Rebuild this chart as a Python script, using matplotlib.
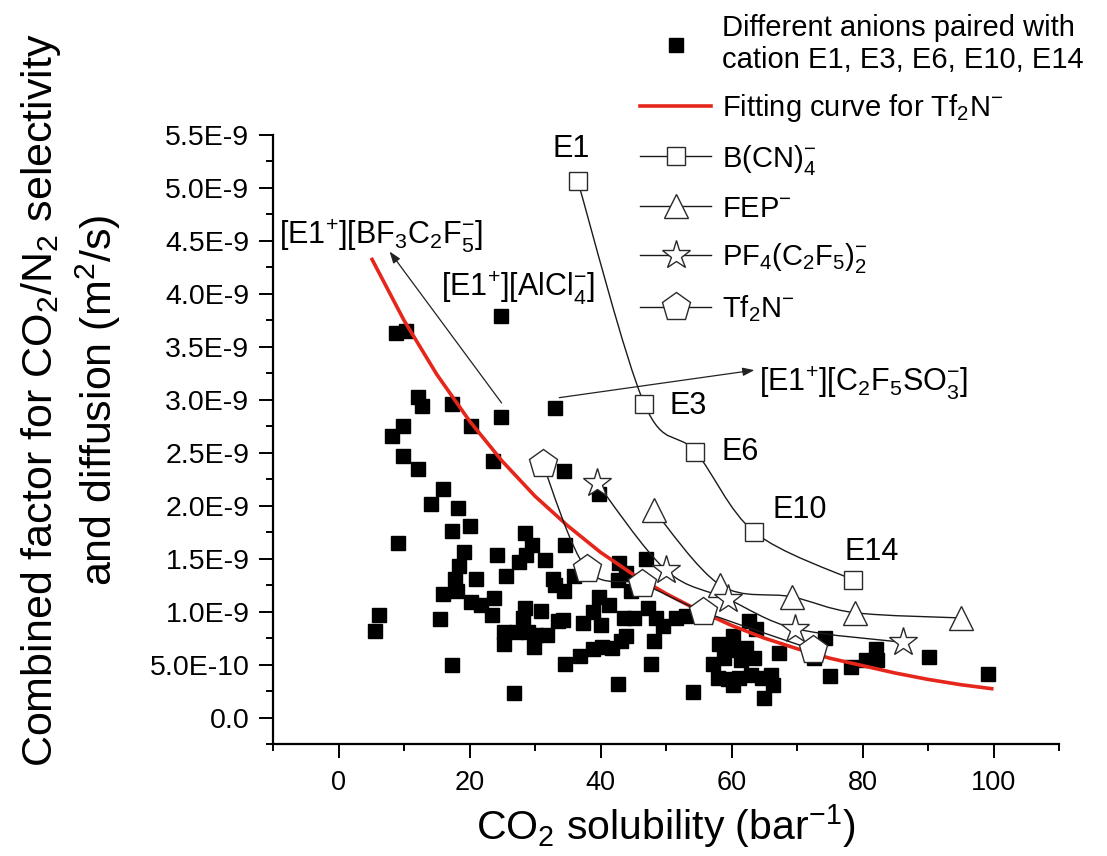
import numpy as np
import matplotlib
matplotlib.use("Agg")
import matplotlib.pyplot as plt
from matplotlib.path import Path
from matplotlib.patches import PathPatch
from matplotlib.lines import Line2D
from matplotlib.ticker import MultipleLocator, FuncFormatter

plt.rcParams['font.family'] = ['Liberation Sans', 'DejaVu Sans']
plt.rcParams['mathtext.default'] = 'regular'

Y_UNIT = 1e-9

# ---------------- data (y in units of 1E-9 m^2/s) ----------------
scatter_x = [24.8, 8.8, 10.3, 12.1, 12.8, 17.3, 24.8, 20.2, 9.8, 8.1, 33.0,
             9.9, 12.2, 16.0, 14.1, 18.2, 17.4, 20.1, 9.1, 19.2, 18.4, 17.8, 21.0,
             18.1, 15.9, 20.2, 21.8, 23.8, 23.5, 15.5, 6.2, 5.5, 17.3, 26.8, 25.2,
             25.2, 24.2, 25.6, 28.4, 29.6, 28.6, 27.6, 31.5, 32.7, 33.0, 34.5, 34.6,
             28.4, 28.1, 30.9, 27.1, 28.9, 30.2, 29.9, 31.9, 33.5, 34.2, 34.6, 23.6,
             34.4,
             39.7, 46.9, 42.9, 36.0, 43.9, 42.6, 44.6, 39.8, 41.3, 38.8, 37.3, 40.0,
             43.6, 45.1, 47.2, 48.5, 49.5, 51.5, 53.0, 48.2, 47.7, 36.9, 38.8, 40.3,
             41.8, 43.1, 43.9, 42.6, 54.1,
             62.7, 63.7, 60.2, 58.1, 60.2, 62.2, 57.1, 58.9, 61.4, 63.4, 57.9, 59.4,
             61.2, 63.0, 64.7, 66.0, 66.3, 60.2, 65.0, 67.3,
             74.2, 75.0, 78.3, 82.1, 82.2, 80.5, 90.2, 99.1, 72.6]
scatter_y = [3.79, 3.63, 3.65, 3.03, 2.94, 2.96, 2.84, 2.75, 2.75, 2.66, 2.92,
             2.47, 2.35, 2.16, 2.02, 1.98, 1.76, 1.81, 1.65, 1.56, 1.43, 1.31, 1.31,
             1.19, 1.17, 1.09, 1.06, 1.13, 0.97, 0.93, 0.97, 0.82, 0.50, 0.23, 0.81,
             0.69, 1.53, 1.34, 1.74, 1.63, 1.53, 1.47, 1.49, 1.31, 1.25, 1.19, 1.63,
             1.03, 0.94, 1.01, 0.81, 0.81, 0.78, 0.67, 0.78, 0.91, 0.92, 0.51, 2.42,
             2.33,
             2.11, 1.50, 1.46, 1.34, 1.36, 1.30, 1.19, 1.14, 1.06, 1.00, 0.89, 0.87,
             0.94, 0.94, 1.03, 0.94, 0.86, 0.94, 0.96, 0.72, 0.51, 0.58, 0.65, 0.67,
             0.66, 0.72, 0.77, 0.315, 0.245,
             0.91, 0.84, 0.765, 0.69, 0.64, 0.66, 0.51, 0.56, 0.54, 0.56, 0.37, 0.36,
             0.37, 0.40, 0.37, 0.40, 0.31, 0.31, 0.18, 0.61,
             0.75, 0.39, 0.48, 0.65, 0.545, 0.545, 0.57, 0.41, 0.56]

# fitting curve for Tf2N-
fit_x = [5, 10, 15, 20, 25, 30, 35, 40, 45, 50, 55, 60, 65, 70, 75, 80, 85, 90, 95, 100]
fit_y = [4.34, 3.75, 3.24, 2.80, 2.42, 2.09, 1.81, 1.56, 1.35, 1.17, 1.01, 0.87,
         0.75, 0.65, 0.56, 0.49, 0.42, 0.36, 0.31, 0.27]

# cation labels for B(CN)4- series
cations = ["E1", "E3", "E6", "E10", "E14"]
bcn4_x = [36.5, 46.7, 54.5, 63.5, 78.5]
bcn4_y = [5.07, 2.96, 2.51, 1.75, 1.30]
fep_x = [48.1, 58.3, 69.2, 78.8, 95.1]
fep_y = [1.96, 1.25, 1.14, 0.99, 0.94]
pf4_x = [39.5, 50.0, 59.4, 69.7, 86.2]
pf4_y = [2.21, 1.39, 1.12, 0.84, 0.71]
tf2n_x = [31.2, 37.9, 46.4, 55.7, 72.5]
tf2n_y = [2.39, 1.40, 1.26, 1.00, 0.64]

x_ticks = [0, 20, 40, 60, 80, 100]

# ---------------- figure ----------------
W, H = 1107, 856
fig = plt.figure(figsize=(W / 100, H / 100), dpi=100)
ax = fig.add_axes([273 / W, 1 - 744 / H, (1059 - 273) / W, (744 - 135) / H])


def smooth_path(xs, ys):
    pts = np.column_stack([xs, ys]).astype(float)
    n = len(pts)
    verts = [pts[0]]
    codes = [Path.MOVETO]
    for i in range(n - 1):
        p0 = pts[i - 1] if i > 0 else pts[i]
        p1 = pts[i]
        p2 = pts[i + 1]
        p3 = pts[i + 2] if i + 2 < n else pts[i + 1]
        c1 = p1 + (p2 - p0) / 6.0
        c2 = p2 - (p3 - p1) / 6.0
        verts += [c1, c2, p2]
        codes += [Path.CURVE4] * 3
    return Path(verts, codes)


RED = '#e5261b'
LINE = '#1a1a1a'
EDGE = '#2a2a2a'

sx = np.array(scatter_x)
sy = np.array(scatter_y) * Y_UNIT
ax.plot(sx, sy, linestyle='none', marker='s', ms=9.6, mfc='black', mec='black',
        zorder=2)

ax.plot(fit_x, np.array(fit_y) * Y_UNIT, color=RED, lw=2.6, zorder=3,
        solid_capstyle='butt')

series = [
    (bcn4_x, bcn4_y, 's', 13),
    (fep_x, fep_y, '^', 17),
    (pf4_x, pf4_y, '*', 21),
    (tf2n_x, tf2n_y, 'p', 21),
]
for xs, ys, mk, ms in series:
    yv = np.array(ys) * Y_UNIT
    patch = PathPatch(smooth_path(xs, yv), facecolor='none', edgecolor=LINE,
                      lw=1.0, zorder=4)
    ax.add_patch(patch)
    ax.plot(xs, yv, linestyle='none', marker=mk, ms=ms, mfc='white',
            mec=EDGE, mew=1.0, zorder=5)

# axes styling
ax.set_xlim(-10, 110)
ax.set_ylim(-0.25e-9, 5.5e-9)
ax.spines['top'].set_visible(False)
ax.spines['right'].set_visible(False)
for s in ('left', 'bottom'):
    ax.spines[s].set_linewidth(1.6)
ax.set_xticks(x_ticks)
ax.xaxis.set_minor_locator(MultipleLocator(10))
ax.yaxis.set_major_locator(MultipleLocator(0.5e-9))
ax.yaxis.set_minor_locator(MultipleLocator(0.25e-9))


def sci_fmt(v, pos):
    if abs(v) < 1e-15:
        return "0.0"
    e = int(np.floor(np.log10(abs(v)) + 1e-9))
    m = v / 10 ** e
    return f"{m:.1f}E{e}"


ax.yaxis.set_major_formatter(FuncFormatter(sci_fmt))
ax.tick_params(which='major', direction='out', length=10, width=1.4)
ax.tick_params(which='minor', direction='out', length=5, width=1.4)
ax.tick_params(axis='x', which='major', labelsize=19.5, pad=9)
ax.tick_params(axis='y', which='major', labelsize=20.5, pad=7)

ax.set_xlabel("CO$_2$ solubility (bar$^{-1}$)", fontsize=29.5, labelpad=4)
fig.text(71 / W, 1 - 400 / H,
         "Combined factor for CO$_2$/N$_2$ selectivity\nand diffusion (m$^2$/s)",
         rotation=90, ha='center', va='center', multialignment='center',
         fontsize=31, linespacing=1.3)

# annotations
ann_fs = 22
ax.text(32.6, 5.29e-9, cations[0], fontsize=ann_fs, va='baseline', ha='left')
ax.text(50.5, 2.87e-9, cations[1], fontsize=ann_fs, va='baseline', ha='left')
ax.text(58.4, 2.43e-9, cations[2], fontsize=ann_fs, va='baseline', ha='left')
ax.text(66.3, 1.88e-9, cations[3], fontsize=ann_fs, va='baseline', ha='left')
ax.text(77.2, 1.49e-9, cations[4], fontsize=ann_fs, va='baseline', ha='left')

ax.text(-9.05, 4.48e-9, "[E1$^{+}$][BF$_3$C$_2$F$_5^{-}$]", fontsize=ann_fs,
        va='baseline', ha='left', clip_on=False)
ax.text(15.7, 3.98e-9, "[E1$^{+}$][AlCl$_4^{-}$]", fontsize=ann_fs,
        va='baseline', ha='left')
ax.text(64.2, 3.09e-9, "[E1$^{+}$][C$_2$F$_5$SO$_3^{-}$]", fontsize=ann_fs,
        va='baseline', ha='left')

arrow_kw = dict(arrowstyle='-|>,head_length=0.7,head_width=0.25', color='#222222',
                lw=0.9, shrinkA=0, shrinkB=0)
ax.annotate('', xy=(7.8, 4.40e-9), xytext=(24.9, 2.97e-9), arrowprops=arrow_kw)
ax.annotate('', xy=(63.5, 3.28e-9), xytext=(33.7, 3.02e-9), arrowprops=arrow_kw)

# legend
handles = [
    Line2D([], [], linestyle='none', marker='s', ms=9.6, mfc='black', mec='black'),
    Line2D([], [], color=RED, lw=2.6),
    Line2D([], [], color=LINE, lw=1.0, marker='s', ms=13, mfc='white', mec=EDGE),
    Line2D([], [], color=LINE, lw=1.0, marker='^', ms=17, mfc='white', mec=EDGE),
    Line2D([], [], color=LINE, lw=1.0, marker='*', ms=21, mfc='white', mec=EDGE),
    Line2D([], [], color=LINE, lw=1.0, marker='p', ms=21, mfc='white', mec=EDGE),
]
labels = [
    "Different anions paired with\ncation E1, E3, E6, E10, E14",
    "Fitting curve for Tf$_2$N$^{-}$",
    "B(CN)$_4^{-}$",
    "FEP$^{-}$",
    "PF$_4$(C$_2$F$_5$)$_2^{-}$",
    "Tf$_2$N$^{-}$",
]
fig.legend(handles, labels, loc='upper left', bbox_to_anchor=(640 / W, 1 - 14 / H),
           frameon=False, fontsize=21, handlelength=2.45, handletextpad=0.35,
           labelspacing=0.62, borderpad=0, borderaxespad=0)

fig.savefig("out.png", dpi=100)
